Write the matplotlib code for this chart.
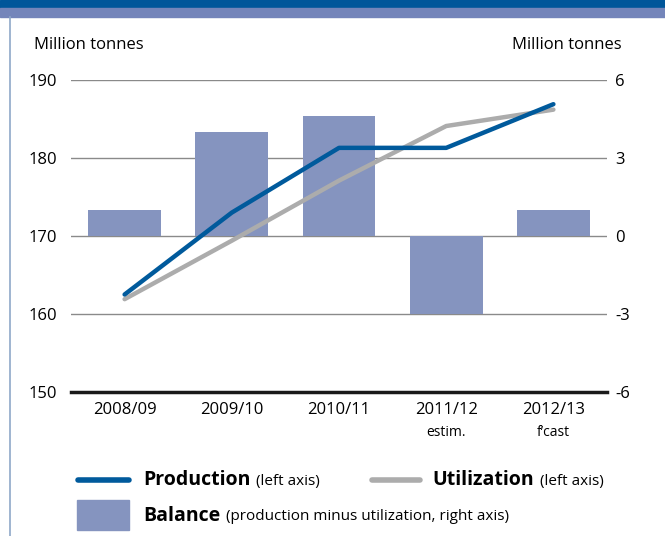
import numpy as np
import matplotlib.pyplot as plt
from matplotlib.lines import Line2D
from matplotlib.patches import Rectangle

seasons = ['2008/09', '2009/10', '2010/11', '2011/12', '2012/13']
season_notes = ['', '', '', 'estim.', 'f\u2019cast']
production = [162.5, 173.0, 181.3, 181.3, 186.9]
utilization = [161.9, 169.4, 177.1, 184.1, 186.2]
balance = [1.0, 4.0, 4.6, -3.0, 1.0]

left_ticks = [150, 160, 170, 180, 190]
right_ticks = [-6, -3, 0, 3, 6]

BLUE = '#005a9c'
GREY = '#acacac'
BAR = '#8594bf'

plt.rcParams['font.family'] = ['Open Sans', 'DejaVu Sans']

fig = plt.figure(figsize=(6.65, 5.36), dpi=100)
W, H = 665, 536

# bandeau du haut + filet gauche
fig.patches.append(Rectangle((0, 1 - 7.5/H), 1, 7.5/H, transform=fig.transFigure,
                             color='#00569a', zorder=0))
fig.patches.append(Rectangle((0, 1 - 17/H), 1, 9.5/H, transform=fig.transFigure,
                             color='#7485ba', zorder=0))
fig.lines.append(Line2D([10/W, 10/W], [0, 1 - 17/H], transform=fig.transFigure,
                        color='#8fa8c8', lw=1.2))

ax = fig.add_axes([71/W, 1 - 392/H, 536/W, 312/H])
x = np.arange(len(seasons))

# barres sur l'axe de droite
ax.bar(x, balance, width=0.68, color=BAR, zorder=2)
ax.set_ylim(-6, 6)
ax.set_xlim(-0.5, 4.5)
for t in right_ticks[1:]:
    ax.axhline(t, color='#8a8a8a', lw=1, zorder=1)
ax.axhline(-6, color='#1a1a1a', lw=2.5, zorder=3, clip_on=False)
for s in ax.spines.values():
    s.set_visible(False)
ax.set_xticks(x)
ax.set_xticklabels(seasons, fontsize=12)
ax.tick_params(axis='x', length=0, pad=7)
for i, n in enumerate(season_notes):
    if n:
        ax.text(i, -0.105, n, transform=ax.get_xaxis_transform(), ha='center', va='top',
                fontsize=10)

# lignes sur l'axe de gauche
ax2 = ax.twinx()
ax2.plot(x, utilization, color=GREY, lw=3.2, solid_capstyle='round', solid_joinstyle='round')
ax2.plot(x, production, color=BLUE, lw=3.2, solid_capstyle='round', solid_joinstyle='round')
ax2.set_ylim(150, 190)
ax2.set_yticks(left_ticks)
ax2.yaxis.tick_left()
ax2.tick_params(axis='y', length=0, pad=10, labelsize=12)
for s in ax2.spines.values():
    s.set_visible(False)

# twinx remet les ticks à gauche, donc on les repasse à droite ici
ax.yaxis.tick_right()
ax.set_yticks(right_ticks)
ax.set_yticklabels([str(t) for t in right_ticks])
ax.tick_params(axis='y', length=0, pad=6, labelsize=12)

fig.text(34/W, 1 - 45/H, 'Million tonnes', fontsize=12, va='center', ha='left')
fig.text(622/W, 1 - 45/H, 'Million tonnes', fontsize=12, va='center', ha='right')

renderer = fig.canvas.get_renderer()


def legend_text(x0, y, bold, rest):
    t = fig.text(x0 / W, y, bold, fontsize=14, fontweight='bold', va='center')
    bb = t.get_window_extent(renderer)
    fig.text((bb.x1 + 6) / W, y - 1/H, rest, fontsize=11, va='center')


# légende
ly1 = 1 - 480/H
fig.lines.append(Line2D([78/W, 129/W], [ly1, ly1], transform=fig.transFigure,
                        color=BLUE, lw=4, solid_capstyle='round'))
legend_text(143, ly1, 'Production', '(left axis)')
fig.lines.append(Line2D([372/W, 420/W], [ly1, ly1], transform=fig.transFigure,
                        color=GREY, lw=4, solid_capstyle='round'))
legend_text(432, ly1, 'Utilization', '(left axis)')

fig.patches.append(Rectangle((77/W, 1 - 530/H), 52/W, 30/H, transform=fig.transFigure,
                             color=BAR))
ly2 = 1 - 516/H
legend_text(143, ly2, 'Balance', '(production minus utilization, right axis)')

fig.savefig('out.png', dpi=100)
